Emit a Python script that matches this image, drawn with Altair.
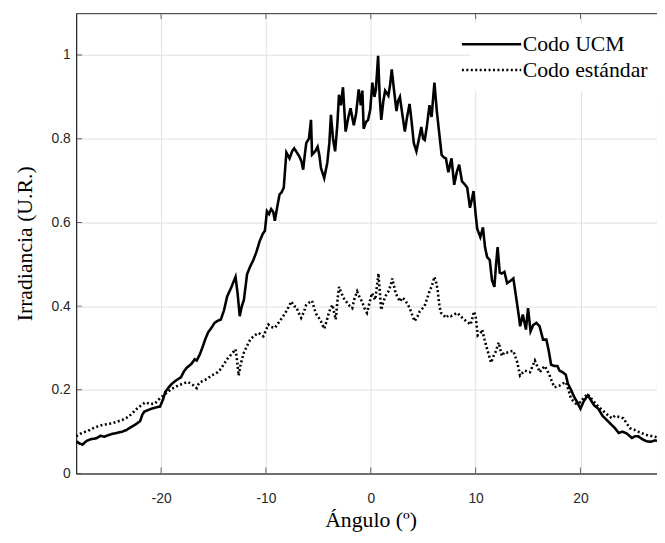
import altair as alt
import pandas as pd

series_names = ["Codo UCM", "Codo estándar"]
x_ticks = [-20, -10, 0, 10, 20]
y_ticks = [0, 0.2, 0.4, 0.6, 0.8, 1]

ucm_x = [-28.1, -27.8, -27.5, -27.1, -26.7, -26.2, -25.8, -25.4, -25.0, -24.6, -24.2, -23.7, -23.3, -22.8,
         -22.4, -22.0, -21.8, -21.6, -21.2, -20.9, -20.5, -20.1, -19.8, -19.6, -19.3, -19.0, -18.6, -18.1,
         -17.8, -17.5, -17.1, -16.8, -16.6, -16.3, -16.0, -15.8, -15.5, -15.2, -14.9, -14.6, -14.3, -14.0,
         -13.7, -13.3, -12.9, -12.7, -12.5, -12.3, -12.1, -11.8, -11.5, -11.2, -10.9, -10.6, -10.3, -10.1,
         -9.9, -9.7, -9.5, -9.3, -9.15, -8.9, -8.7, -8.5, -8.3, -8.05, -7.75, -7.5, -7.3, -7.0, -6.8, -6.6,
         -6.45, -6.3, -6.15, -5.9, -5.7, -5.6, -5.3, -5.07, -4.9, -4.75, -4.44, -4.15, -3.95, -3.8, -3.6,
         -3.4, -3.2, -3.03, -2.85, -2.65, -2.4, -2.15, -1.93, -1.62, -1.4, -1.15, -0.95, -0.8, -0.68, -0.45,
         -0.26, -0.05, 0.15, 0.35, 0.49, 0.7, 0.85, 1.0, 1.2, 1.37, 1.68, 1.85, 2.0, 2.2, 2.45, 2.6, 2.78,
         3.0, 3.25, 3.45, 3.7, 3.9, 4.1, 4.35, 4.6, 4.82, 5.0, 5.15, 5.35, 5.6, 5.8, 6.07, 6.3, 6.5, 6.76,
         7.0, 7.17, 7.4, 7.7, 7.96, 8.2, 8.43, 8.7, 9.0, 9.2, 9.46, 9.6, 9.8, 10.0, 10.15, 10.45, 10.7,
         10.9, 11.1, 11.35, 11.56, 11.79, 11.95, 12.1, 12.3, 12.5, 12.75, 13.0, 13.3, 13.6, 13.9, 14.1,
         14.25, 14.5, 14.8, 15.0, 15.24, 15.5, 15.8, 16.1, 16.43, 16.75, 17.0, 17.2, 17.5, 17.8, 18.0,
         18.3, 18.6, 18.8, 19.1, 19.4, 19.7, 20.0, 20.3, 20.7, 21.0, 21.3, 21.7, 22.1, 22.5, 22.9, 23.3,
         23.65, 24.0, 24.4, 24.9, 25.2, 25.5, 25.9, 26.3, 26.7, 27.1, 27.3]
ucm_y = [0.077, 0.072, 0.069, 0.078, 0.082, 0.084, 0.090, 0.088, 0.092, 0.095, 0.097, 0.100, 0.104, 0.112,
         0.118, 0.125, 0.140, 0.148, 0.152, 0.155, 0.158, 0.160, 0.178, 0.195, 0.205, 0.214, 0.222, 0.230,
         0.245, 0.254, 0.262, 0.273, 0.270, 0.285, 0.305, 0.320, 0.338, 0.348, 0.360, 0.365, 0.368, 0.390,
         0.423, 0.445, 0.470, 0.430, 0.376, 0.400, 0.415, 0.476, 0.495, 0.510, 0.530, 0.555, 0.573, 0.580,
         0.627, 0.620, 0.632, 0.625, 0.604, 0.640, 0.667, 0.672, 0.683, 0.767, 0.753, 0.770, 0.777, 0.765,
         0.757, 0.745, 0.726, 0.760, 0.790, 0.800, 0.845, 0.762, 0.770, 0.781, 0.760, 0.730, 0.706, 0.742,
         0.790, 0.857, 0.800, 0.770, 0.830, 0.905, 0.880, 0.923, 0.817, 0.850, 0.873, 0.832, 0.860, 0.918,
         0.880, 0.915, 0.824, 0.840, 0.845, 0.870, 0.934, 0.900, 0.918, 0.998, 0.900, 0.845, 0.890, 0.915,
         0.903, 0.930, 0.966, 0.920, 0.866, 0.890, 0.900, 0.860, 0.817, 0.850, 0.883, 0.840, 0.790, 0.770,
         0.800, 0.828, 0.800, 0.797, 0.830, 0.880, 0.852, 0.934, 0.866, 0.820, 0.761, 0.755, 0.753, 0.720,
         0.753, 0.690, 0.720, 0.738, 0.698, 0.690, 0.683, 0.635, 0.650, 0.675, 0.620, 0.585, 0.565, 0.588,
         0.540, 0.517, 0.510, 0.462, 0.446, 0.500, 0.541, 0.480, 0.478, 0.482, 0.455, 0.460, 0.466, 0.415,
         0.380, 0.352, 0.380, 0.344, 0.395, 0.340, 0.355, 0.360, 0.352, 0.320, 0.320, 0.290, 0.260, 0.257,
         0.257, 0.246, 0.242, 0.236, 0.215, 0.200, 0.183, 0.170, 0.155, 0.172, 0.187, 0.175, 0.163, 0.155,
         0.138, 0.128, 0.118, 0.108, 0.097, 0.100, 0.096, 0.085, 0.089, 0.089, 0.082, 0.077, 0.076, 0.079,
         0.078]

std_x = [-28.1, -27.7, -27.2, -26.8, -26.5, -26.1, -25.6, -25.1, -24.65, -24.2, -23.7, -23.4, -23.1, -22.7,
         -22.3, -21.9, -21.5, -21.0, -20.6, -20.1, -19.6, -19.3, -19.0, -18.7, -18.4, -17.9, -17.45, -17.0,
         -16.6, -16.4, -16.0, -15.6, -15.2, -14.9, -14.6, -14.3, -14.0, -13.7, -13.3, -12.9, -12.75, -12.6,
         -12.4, -12.1, -11.8, -11.5, -11.1, -10.7, -10.25, -9.95, -9.77, -9.5, -9.15, -8.8, -8.36, -8.0,
         -7.58, -7.3, -7.1, -6.9, -6.64, -6.4, -6.17, -5.9, -5.6, -5.4, -5.2, -4.95, -4.76, -4.44, -4.2,
         -3.97, -3.66, -3.5, -3.34, -3.15, -3.03, -2.8, -2.5, -2.24, -2.0, -1.77, -1.55, -1.3, -1.05, -0.83,
         -0.6, -0.36, -0.1, 0.11, 0.42, 0.6, 0.73, 0.99, 1.2, 1.37, 1.68, 1.9, 2.05, 2.37, 2.78, 3.0, 3.25,
         3.5, 3.72, 4.0, 4.19, 4.45, 4.66, 5.13, 5.4, 5.6, 5.85, 6.07, 6.25, 6.38, 6.55, 6.7, 6.95, 7.17,
         7.4, 7.64, 7.95, 8.27, 8.6, 8.9, 9.2, 9.53, 9.84, 10.0, 10.2, 10.47, 10.62, 10.85, 11.1, 11.3,
         11.47, 11.7, 11.88, 12.2, 12.5, 12.75, 12.98, 13.3, 13.6, 13.98, 14.24, 14.45, 14.7, 15.0, 15.18,
         15.4, 15.65, 15.9, 16.12, 16.35, 16.6, 16.85, 17.06, 17.3, 17.53, 17.75, 18.0, 18.3, 18.63, 18.85,
         19.1, 19.35, 19.57, 19.8, 20.04, 20.35, 20.67, 21.0, 21.3, 21.7, 22.1, 22.5, 23.0, 23.3, 23.7,
         24.1, 24.4, 24.75, 25.1, 25.5, 25.9, 26.3, 26.7, 27.1, 27.3]
std_y = [0.089, 0.095, 0.100, 0.104, 0.108, 0.112, 0.116, 0.118, 0.120, 0.124, 0.128, 0.132, 0.136, 0.145,
         0.155, 0.163, 0.170, 0.166, 0.167, 0.180, 0.190, 0.196, 0.202, 0.206, 0.210, 0.215, 0.219, 0.212,
         0.204, 0.215, 0.222, 0.226, 0.234, 0.238, 0.242, 0.250, 0.262, 0.273, 0.285, 0.297, 0.270, 0.234,
         0.262, 0.289, 0.305, 0.320, 0.330, 0.336, 0.328, 0.345, 0.356, 0.350, 0.348, 0.360, 0.376, 0.390,
         0.411, 0.400, 0.398, 0.385, 0.372, 0.385, 0.402, 0.408, 0.413, 0.395, 0.381, 0.372, 0.364, 0.346,
         0.365, 0.387, 0.403, 0.385, 0.368, 0.420, 0.446, 0.431, 0.415, 0.408, 0.400, 0.395, 0.418, 0.435,
         0.420, 0.411, 0.395, 0.384, 0.410, 0.431, 0.415, 0.450, 0.478, 0.391, 0.410, 0.423, 0.435, 0.450,
         0.466, 0.431, 0.411, 0.420, 0.415, 0.405, 0.395, 0.375, 0.364, 0.375, 0.387, 0.400, 0.420, 0.435,
         0.450, 0.470, 0.455, 0.438, 0.400, 0.384, 0.378, 0.372, 0.378, 0.376, 0.380, 0.384, 0.375, 0.368,
         0.362, 0.356, 0.387, 0.376, 0.330, 0.336, 0.344, 0.320, 0.297, 0.280, 0.265, 0.280, 0.289, 0.313,
         0.281, 0.290, 0.289, 0.292, 0.293, 0.265, 0.234, 0.240, 0.246, 0.243, 0.242, 0.255, 0.270, 0.255,
         0.242, 0.250, 0.257, 0.245, 0.234, 0.218, 0.206, 0.208, 0.210, 0.215, 0.218, 0.200, 0.179, 0.172,
         0.167, 0.168, 0.171, 0.182, 0.190, 0.180, 0.171, 0.160, 0.151, 0.142, 0.132, 0.138, 0.135, 0.132,
         0.120, 0.108, 0.105, 0.100, 0.096, 0.092, 0.090, 0.088, 0.086]

X_MIN, X_MAX = -28.1, 27.3
Y_MIN, Y_MAX = 0, 1.1

rows = []
for name, xs, ys in [(series_names[0], ucm_x, ucm_y), (series_names[1], std_x, std_y)]:
    for i, (xv, yv) in enumerate(zip(xs, ys)):
        rows.append({"serie": name, "x": xv, "y": yv, "i": i})
df = pd.DataFrame(rows)

xticks_df = pd.DataFrame({"x": x_ticks})
yticks_df = pd.DataFrame({"y": y_ticks})

AX = "#262626"
SANS = "Liberation Sans"
SERIF = "Liberation Serif"

x_scale = alt.Scale(domain=[X_MIN, X_MAX], nice=False, zero=False)
y_scale = alt.Scale(domain=[Y_MIN, Y_MAX], nice=False, zero=False)

lines = alt.Chart(df).mark_line(strokeWidth=2.6, color="black", clip=True).encode(
    x=alt.X("x:Q", scale=x_scale,
            axis=alt.Axis(values=x_ticks, labelExpr="toString(datum.value)", title="Ángulo (º)",
                          labelPadding=18, titleX=298, titleY=47, titleBaseline="middle",
                          titleAnchor="start", titleAlign="center")),
    y=alt.Y("y:Q", scale=y_scale,
            axis=alt.Axis(values=y_ticks, labelExpr="toString(datum.value)", title="Irradiancia (U.R.)",
                          labelPadding=6, titleX=-52, titleBaseline="middle")),
    strokeDash=alt.StrokeDash(
        "serie:N",
        scale=alt.Scale(domain=series_names, range=[[1, 0], [2, 2.5]]),
        legend=alt.Legend(title=None, orient="none", legendX=399, legendY=10,
                          symbolType="M-3,0H3", symbolSize=400, symbolStrokeWidth=2.6,
                          symbolStrokeColor="black", labelFont=SERIF, labelFontSize=22,
                          labelColor="black", labelOffset=20, fillColor="white",
                          padding=10, rowPadding=3),
    ),
    order="i:Q",
)

bottom_ticks = alt.Chart(xticks_df).mark_tick(orient="vertical", size=12, thickness=1,
                                              color=AX, clip=True).encode(
    x="x:Q", y=alt.datum(Y_MIN))
top_ticks = alt.Chart(xticks_df).mark_tick(orient="vertical", size=12, thickness=1,
                                           color=AX, clip=True).encode(
    x="x:Q", y=alt.datum(Y_MAX))
left_ticks = alt.Chart(yticks_df).mark_tick(orient="horizontal", size=12, thickness=1,
                                            color=AX, clip=True).encode(
    y="y:Q", x=alt.datum(X_MIN))

chart = alt.layer(lines, bottom_ticks, top_ticks, left_ticks).properties(
    width=588, height=466,
    autosize=alt.AutoSizeParams(type="none"),
    padding={"left": 69, "top": 2, "right": 0, "bottom": 60},
).configure_view(stroke=AX, strokeWidth=1).configure_axis(
    grid=True, gridColor="#dfdfdf", gridWidth=1, ticks=False, tickSize=0,
    domainColor=AX, domainWidth=1,
    labelFont=SANS, labelFontSize=14, labelColor=AX,
    titleFont=SERIF, titleFontSize=22, titleColor="black", titleFontWeight="normal",
).configure_legend(labelLimit=300)

chart.save("out.html", embed_options={"renderer": "svg", "actions": False})
